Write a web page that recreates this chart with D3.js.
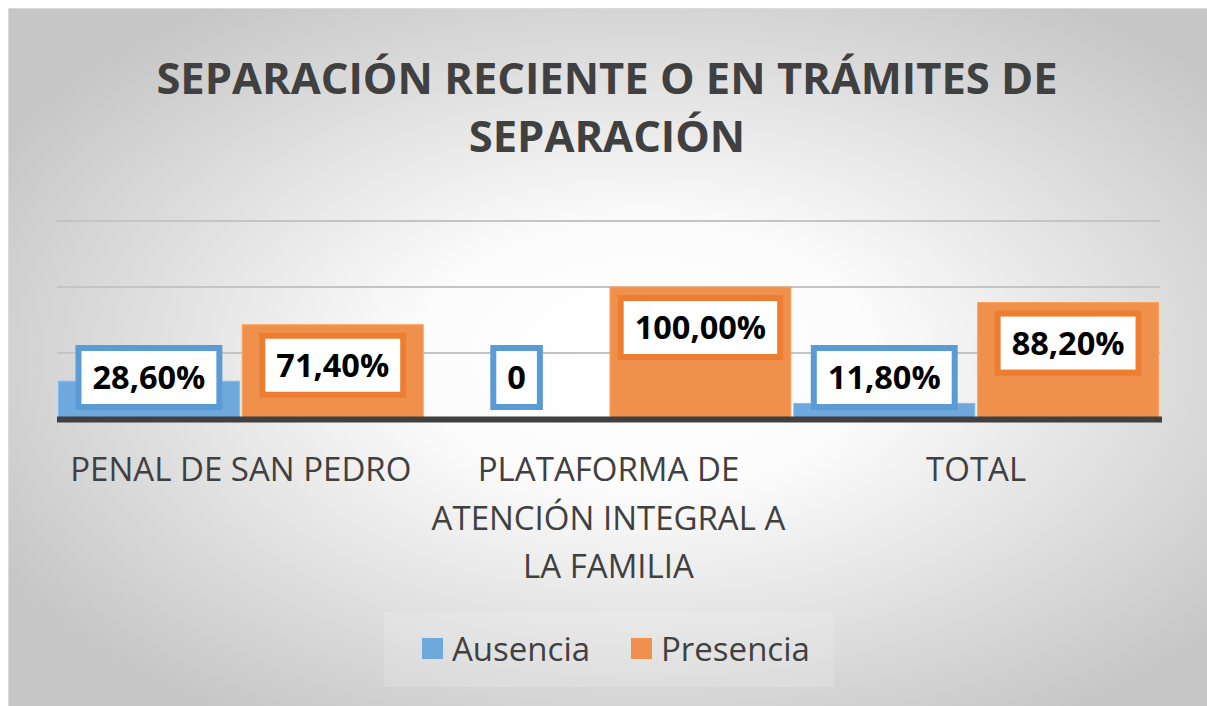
<!DOCTYPE html>
<html>
<head>
<meta charset="utf-8">
<script src="https://cdn.jsdelivr.net/npm/d3@7"></script>
<style>
  html, body { margin: 0; padding: 0; background: #fff; }
  svg { display: block; }
</style>
</head>
<body>
<div id="chart"></div>
<script>
// chart data
const titleLines = ["SEPARACIÓN RECIENTE O EN TRÁMITES DE", "SEPARACIÓN"];
const categories = ["PENAL DE SAN PEDRO", "PLATAFORMA DE ATENCIÓN INTEGRAL A LA FAMILIA", "TOTAL"];
const categoryLines = [["PENAL DE SAN PEDRO"], ["PLATAFORMA DE", "ATENCIÓN INTEGRAL A", "LA FAMILIA"], ["TOTAL"]];
const seriesNames = ["Ausencia", "Presencia"];
const ausencia = [28.6, 0, 11.8];
const presencia = [71.4, 100, 88.2];
const gridTicks = [0, 50, 100, 150];

const width = 1207;
const height = 706;
const font = "'Open Sans', 'Noto Sans', sans-serif";

const fillColors = { Ausencia: "#6fa8dc", Presencia: "#f0904d" };
const edgeColors = { Ausencia: "#5b9bd5", Presencia: "#ed7d31" };

const svg = d3.select("#chart")
  .append("svg")
  .attr("width", width)
  .attr("height", height);

// background gradient
const defs = svg.append("defs");
const grad = defs.append("radialGradient")
  .attr("id", "bg")
  .attr("cx", "0.53").attr("cy", "0.5").attr("r", "0.62");
grad.append("stop").attr("offset", "0").attr("stop-color", "#ffffff");
grad.append("stop").attr("offset", "0.3").attr("stop-color", "#fcfcfc");
grad.append("stop").attr("offset", "1").attr("stop-color", "#c6c6c6");

svg.append("rect")
  .attr("x", 8.5).attr("y", 8.5)
  .attr("width", width - 8).attr("height", height - 8)
  .attr("fill", "url(#bg)")
  .attr("stroke", "#dadada")
  .attr("stroke-width", 1);

// title
svg.append("text")
  .attr("text-anchor", "middle")
  .attr("font-family", font)
  .attr("font-weight", "bold")
  .attr("font-size", 43.5)
  .attr("fill", "#404040")
  .selectAll("tspan")
  .data(titleLines)
  .enter()
  .append("tspan")
  .attr("x", 607)
  .attr("y", (d, i) => 94 + i * 58)
  .text(d => d);

// scales
const x = d3.scaleBand().domain(categories).range([57, 1160]).paddingInner(0).paddingOuter(0);
const xSub = d3.scaleBand().domain(seriesNames).range([0, x.bandwidth()]).paddingInner(0.016).paddingOuter(0.008);
const y = d3.scaleLinear().domain([0, 150]).range([419, 221]);

// gridlines
svg.append("g")
  .selectAll("line")
  .data(gridTicks.filter(t => t > 0))
  .enter()
  .append("line")
  .attr("x1", 57).attr("x2", 1160)
  .attr("y1", d => y(d)).attr("y2", d => y(d))
  .attr("stroke", "#c4c4c4")
  .attr("stroke-width", 2);

// bars
const rows = categories.map((c, i) => ({
  cat: c,
  values: [
    { name: "Ausencia", value: ausencia[i] },
    { name: "Presencia", value: presencia[i] }
  ]
}));

const groups = svg.append("g")
  .selectAll("g")
  .data(rows)
  .enter()
  .append("g")
  .attr("transform", d => `translate(${x(d.cat)},0)`);

groups.selectAll("rect")
  .data(d => d.values)
  .enter()
  .append("rect")
  .attr("x", d => xSub(d.name))
  .attr("width", xSub.bandwidth())
  .attr("y", d => y(d.value))
  .attr("height", d => y(0) - y(d.value))
  .attr("fill", d => fillColors[d.name])
  .attr("stroke", d => d3.color(fillColors[d.name]).brighter(0.3))
  .attr("stroke-width", 1);

// baseline
svg.append("line")
  .attr("x1", 57).attr("x2", 1162)
  .attr("y1", y(0) + 0.5).attr("y2", y(0) + 0.5)
  .attr("stroke", "#404040")
  .attr("stroke-width", 6);

// data labels
const fmt = v => v === 0 ? "0" : v.toFixed(2).replace(".", ",") + "%";
const boxH = 59;

groups.each(function (row) {
  const g = d3.select(this);
  row.values.forEach(d => {
    const cx = xSub(d.name) + xSub.bandwidth() / 2;
    let top = y(d.value) + 11;
    const maxTop = y(0) - 12 - boxH;
    if (top > maxTop) top = maxTop;
    const lg = g.append("g");
    const rect = lg.append("rect")
      .attr("fill", "#ffffff")
      .attr("stroke", edgeColors[d.name])
      .attr("stroke-width", 6);
    const txt = lg.append("text")
      .attr("x", cx)
      .attr("y", top + boxH / 2 + 11.5)
      .attr("text-anchor", "middle")
      .attr("font-family", font)
      .attr("font-weight", "bold")
      .attr("font-size", 32.5)
      .attr("fill", "#000")
      .text(fmt(d.value));
    const w = txt.node().getComputedTextLength() + 28;
    rect.attr("x", cx - w / 2).attr("y", top)
      .attr("width", w).attr("height", boxH);
  });
});

// category labels
svg.append("g")
  .selectAll("text")
  .data(categories)
  .enter()
  .append("text")
  .attr("text-anchor", "middle")
  .attr("font-family", font)
  .attr("font-size", 33)
  .attr("fill", "#404040")
  .each(function (c, i) {
    d3.select(this).selectAll("tspan")
      .data(categoryLines[i])
      .enter()
      .append("tspan")
      .attr("x", x(c) + x.bandwidth() / 2)
      .attr("y", (d, j) => 481 + j * 48.5)
      .text(d => d);
  });

// legend
svg.append("rect")
  .attr("x", 384).attr("y", 612)
  .attr("width", 450).attr("height", 75)
  .attr("fill", "#ffffff").attr("opacity", 0.15);

const legendX = [422, 631];
const legend = svg.append("g")
  .selectAll("g")
  .data(seriesNames)
  .enter()
  .append("g")
  .attr("transform", (d, i) => `translate(${legendX[i]},0)`);

legend.append("rect")
  .attr("x", 0).attr("y", 638)
  .attr("width", 21).attr("height", 21)
  .attr("fill", d => fillColors[d]);

legend.append("text")
  .attr("x", 30).attr("y", 661)
  .attr("font-family", font)
  .attr("font-size", 33)
  .attr("fill", "#404040")
  .text(d => d);
</script>
</body>
</html>
